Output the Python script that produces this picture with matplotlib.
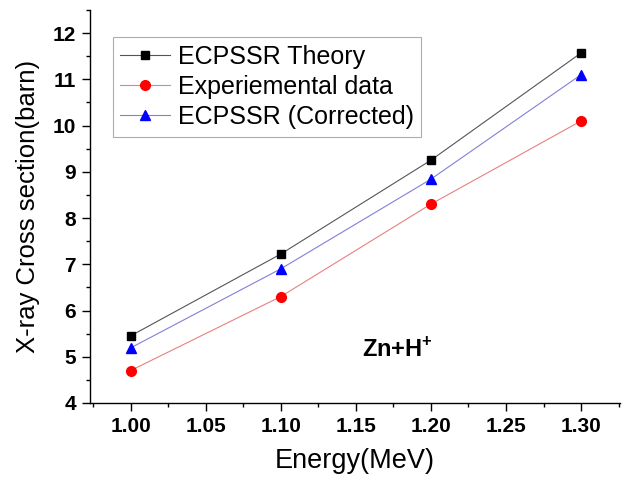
import matplotlib

matplotlib.use("Agg")
import matplotlib.pyplot as plt
from matplotlib.ticker import MultipleLocator

plt.rcParams["font.family"] = ["Liberation Sans", "DejaVu Sans"]
plt.rcParams["mathtext.fontset"] = "custom"
plt.rcParams["mathtext.bf"] = "Liberation Sans:bold"
plt.rcParams["mathtext.rm"] = "Liberation Sans"

# ------------------------------------------------------------------ data
energy = [1.00, 1.10, 1.20, 1.30]
ecpssr_theory = [5.45, 7.22, 9.25, 11.57]
experimental = [4.70, 6.30, 8.30, 10.10]
ecpssr_corrected = [5.19, 6.90, 8.84, 11.10]

# ------------------------------------------------------------------ figure
fig = plt.figure(figsize=(6.27, 4.79), dpi=100)
ax = fig.add_axes([0.1435, 0.1587, 0.8455, 0.8205])

ax.plot(energy, ecpssr_theory, color="#555555", linewidth=0.8,
        marker="s", markersize=6, markerfacecolor="black",
        markeredgecolor="black", label="ECPSSR Theory")
ax.plot(energy, experimental, color="#e88080", linewidth=0.8,
        marker="o", markersize=7, markerfacecolor="red",
        markeredgecolor="red", label="Experiemental data")
ax.plot(energy, ecpssr_corrected, color="#8080d8", linewidth=0.8,
        marker="^", markersize=7.5, markerfacecolor="blue",
        markeredgecolor="blue", label="ECPSSR (Corrected)")

ax.set_xlim(0.973, 1.326)
ax.set_ylim(4, 12.5)
ax.xaxis.set_major_locator(MultipleLocator(0.05))
ax.xaxis.set_minor_locator(MultipleLocator(0.025))
ax.yaxis.set_major_locator(MultipleLocator(1))
ax.yaxis.set_minor_locator(MultipleLocator(0.5))
ax.xaxis.set_major_formatter(plt.FormatStrFormatter("%.2f"))

for side in ("top", "right"):
    ax.spines[side].set_visible(False)
for side in ("left", "bottom"):
    ax.spines[side].set_linewidth(1.0)

ax.tick_params(which="major", direction="out", length=6, width=1.0,
               labelsize=15, pad=4)
ax.tick_params(which="minor", direction="out", length=3, width=1.0)
for lbl in ax.get_xticklabels() + ax.get_yticklabels():
    lbl.set_fontweight("bold")

ax.set_xlabel("Energy(MeV)", fontsize=19.5, labelpad=9)
ax.set_ylabel("X-ray Cross section(barn)", fontsize=18.5, labelpad=9)

leg = ax.legend(loc="upper left", bbox_to_anchor=(0.043, 0.931),
                fontsize=18, frameon=True, fancybox=False,
                handlelength=2.0, handletextpad=0.3, borderpad=0.3,
                labelspacing=0.25, borderaxespad=0)
leg.get_frame().set_edgecolor("#999999")
leg.get_frame().set_linewidth(0.8)

ax.text(1.178, 5.15, "Zn+H$^{\\mathbf{+}}$", fontsize=17, fontweight="bold",
        ha="center", va="center")

fig.savefig("out.png", dpi=100)
